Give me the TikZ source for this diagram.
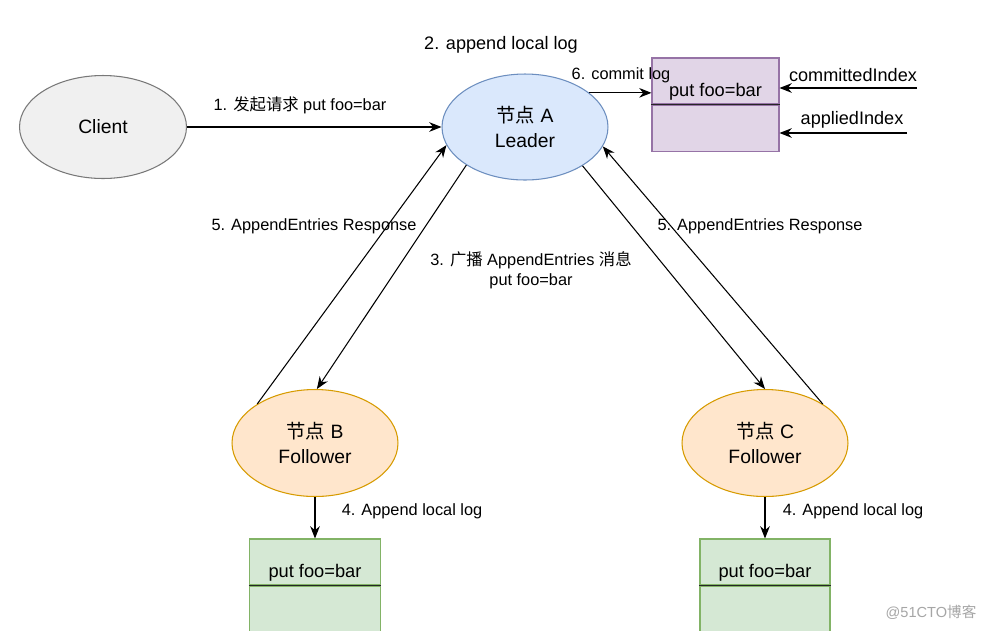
\documentclass[tikz,border=0pt]{standalone}
\usepackage{fontspec}
\setmainfont{Liberation Sans}
\newfontfamily\cjk{Noto Sans CJK SC}
\usetikzlibrary{positioning,shapes.geometric,arrows.meta}

\begin{document}
\begin{tikzpicture}[x=0.02cm,y=-0.02cm,
    proc/.style={ellipse,draw,line width=0.6pt,minimum width=3.32cm,minimum height=2.12cm,align=center,inner sep=0pt,font=\fontsize{11}{14}\selectfont},
    cell/.style={rectangle,draw,line width=0.6pt,minimum width=2.6cm,minimum height=0.92cm,inner sep=0pt,font=\fontsize{10.4}{12}\selectfont},
    lbl/.style={font=\fontsize{9.3}{11.5}\selectfont,align=center,inner sep=1pt},
    big/.style={font=\fontsize{10.3}{12}\selectfont,inner sep=1pt},
    msg/.style={-{Stealth[length=7pt,width=5.5pt]},line width=0.6pt}]
    \definecolor{cliFill}{RGB}{240,240,240}
    \definecolor{cliLine}{RGB}{120,120,120}
    \definecolor{leadFill}{RGB}{218,232,252}
    \definecolor{leadLine}{RGB}{108,142,191}
    \definecolor{folFill}{RGB}{255,230,204}
    \definecolor{folLine}{RGB}{215,155,0}
    \definecolor{logFill}{RGB}{225,213,231}
    \definecolor{logLine}{RGB}{150,115,166}
    \definecolor{okFill}{RGB}{213,232,212}
    \definecolor{okLine}{RGB}{130,179,102}
    \useasboundingbox (0,0) rectangle (981,630);
    \fill[white] (0,0) rectangle (981,630);

    % nodes
    \node[proc,fill=cliFill,draw=cliLine,minimum width=3.34cm,minimum height=2.06cm] (client) at (103,127) {Client};
    \node[proc,fill=leadFill,draw=leadLine] (lead) at (525,127) {{\cjk 节点} A\\Leader};
    \node[proc,fill=folFill,draw=folLine,minimum height=2.14cm] (nB) at (315,443) {{\cjk 节点} B\\Follower};
    \node[proc,fill=folFill,draw=folLine,minimum height=2.14cm] (nC) at (765,443) {{\cjk 节点} C\\Follower};

    % log boxes
    \node[cell,fill=logFill,draw=logLine,minimum width=2.54cm,text height=0.6cm,text depth=0pt] (tA) at (715.5,81) {put foo=bar};
    \node[cell,fill=logFill,draw=logLine,minimum width=2.54cm,below=0pt of tA] (bA) {};
    \node[cell,fill=okFill,draw=okLine,minimum width=2.62cm,text height=0.6cm,text depth=0pt] (tB) at (315,562) {put foo=bar};
    \node[cell,fill=okFill,draw=okLine,minimum width=2.62cm,below=0pt of tB] (bB) {};
    \node[cell,fill=okFill,draw=okLine,text height=0.6cm,text depth=0pt] (tC) at (765,562) {put foo=bar};
    \node[cell,fill=okFill,draw=okLine,below=0pt of tC] (bC) {};
    \foreach \c in {tA,tB,tC}
        \draw[line width=0.7pt,black!85] (\c.south west) -- (\c.south east);

    % messages
    \draw[msg] (client) -- (lead);
    \draw[msg] (lead.213) -- (nB.88);
    \draw[msg] (nB.146) -- (lead.193);
    \draw[msg] (lead.326) -- (nC.90);
    \draw[msg] (nC.34) -- (lead.346);
    \draw[msg] (lead.28) -- (lead.28 -| tA.west);
    \draw[msg] (nB.south) -- (tB.north);
    \draw[msg] (nC.south) -- (tC.north);
    \coordinate (ci) at (917,88);
    \coordinate (ai) at (907,133);
    \draw[msg] (ci) -- (ci -| tA.east);
    \draw[msg] (ai) -- (ai -| bA.east);

    % labels
    \node[lbl] (l1) at (300,105) {1. {\cjk 发起请求} put foo=bar};
    \node[big] (l2) at (501,45) {2. append local log};
    \node[lbl] (l3) at (531,270) {3. {\cjk 广播} AppendEntries {\cjk 消息}\\put foo=bar};
    \node[lbl] (l4b) at (412,511) {4. Append local log};
    \node[lbl] (l4c) at (853,511) {4. Append local log};
    \node[lbl] (l5b) at (314,226) {5. AppendEntries Response};
    \node[lbl] (l5c) at (760,226) {5. AppendEntries Response};
    \node[lbl] (l6) at (621,75) {6. commit log};
    \node[big] (lci) at (853,75) {committedIndex};
    \node[big] (lai) at (852,120) {appliedIndex};
    \node[font=\fontsize{8.3}{10}\selectfont,text=black!35,inner sep=1pt] (wm) at (931,612) {@51CTO{\cjk 博客}};
\end{tikzpicture}
\end{document}
